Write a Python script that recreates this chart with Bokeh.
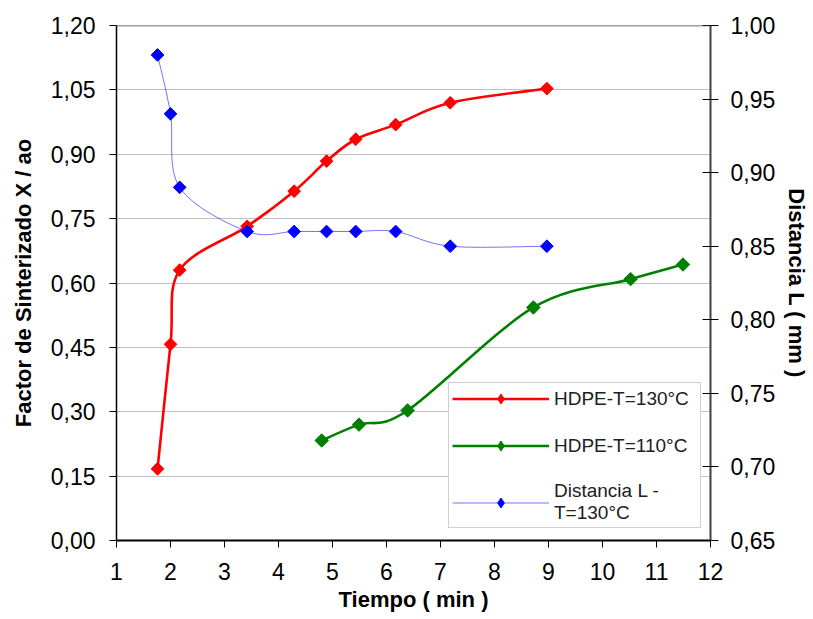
import numpy as np
from bokeh.plotting import figure
from bokeh.models import (Range1d, LinearAxis, FixedTicker, Legend, LegendItem,
                          Span, CustomJSTickFormatter)
from bokeh.embed import file_html
from bokeh.resources import INLINE

# ---- data ----
t_130 = [1.76, 2.0, 2.17, 3.42, 4.29, 4.89, 5.43, 6.17, 7.18, 8.97]
x_130 = [0.167, 0.457, 0.630, 0.732, 0.814, 0.884, 0.935, 0.969, 1.020, 1.053]

t_110 = [4.80, 5.49, 6.39, 8.72, 10.52, 11.49]
x_110 = [0.233, 0.270, 0.303, 0.543, 0.609, 0.643]

t_L = [1.76, 2.0, 2.17, 3.42, 4.29, 4.89, 5.43, 6.17, 7.18, 8.97]
L_130 = [0.98, 0.94, 0.89, 0.86, 0.86, 0.86, 0.86, 0.86, 0.85, 0.85]

x_ticks = [1, 2, 3, 4, 5, 6, 7, 8, 9, 10, 11, 12]
x_tick_labels = ["1", "2", "3", "4", "5", "6", "7", "8", "9", "10", "11", "12"]
left_ticks = [0.0, 0.15, 0.30, 0.45, 0.60, 0.75, 0.90, 1.05, 1.20]
left_tick_labels = ["0,00", "0,15", "0,30", "0,45", "0,60", "0,75", "0,90", "1,05", "1,20"]
right_ticks = [0.65, 0.70, 0.75, 0.80, 0.85, 0.90, 0.95, 1.00]
right_tick_labels = ["0,65", "0,70", "0,75", "0,80", "0,85", "0,90", "0,95", "1,00"]

labels = ["HDPE-T=130°C", "HDPE-T=110°C", "Distancia L -\nT=130°C"]

FONT = "Liberation Sans"


def smooth(xs, ys):
    """Bezier control points for an Excel-like smoothed line through the points."""
    n = len(xs)
    d = dict(x0=[], y0=[], x1=[], y1=[], cx0=[], cy0=[], cx1=[], cy1=[])
    for i in range(n - 1):
        xp, yp = (xs[i - 1], ys[i - 1]) if i > 0 else (xs[i], ys[i])
        xn, yn = (xs[i + 2], ys[i + 2]) if i + 2 < n else (xs[i + 1], ys[i + 1])
        d["x0"].append(xs[i]); d["y0"].append(ys[i])
        d["x1"].append(xs[i + 1]); d["y1"].append(ys[i + 1])
        d["cx0"].append(xs[i] + (xs[i + 1] - xp) / 6.0)
        d["cy0"].append(ys[i] + (ys[i + 1] - yp) / 6.0)
        d["cx1"].append(xs[i + 1] - (xn - xs[i]) / 6.0)
        d["cy1"].append(ys[i + 1] - (yn - ys[i]) / 6.0)
    return d


def fmt(tvals, tlabs):
    return CustomJSTickFormatter(args=dict(tvals=tvals, tlabs=tlabs), code="""
        const i = tvals.findIndex(t => Math.abs(t - tick) < 1e-9);
        return i >= 0 ? tlabs[i] : '';
    """)


p = figure(width=812, height=618, output_backend="svg", toolbar_location=None,
           x_range=Range1d(1, 12), y_range=Range1d(0, 1.2),
           min_border_left=116, min_border_right=100, min_border_top=25,
           min_border_bottom=78, background_fill_color="white",
           border_fill_color="white")
p.outline_line_color = None
p.extra_y_ranges = {"right": Range1d(0.65, 1.0)}

# grid
p.xgrid.visible = False
p.ygrid.ticker = FixedTicker(ticks=left_ticks)
p.ygrid.grid_line_color = "#c0c0c0"
p.ygrid.grid_line_width = 1

# axes
def style_axis(ax):
    ax.major_label_text_font = FONT
    ax.major_label_text_font_size = "23px"
    ax.major_label_text_color = "black"
    ax.axis_label_text_font = FONT
    ax.axis_label_text_font_size = "22px"
    ax.axis_label_text_font_style = "bold"
    ax.axis_label_text_color = "black"
    ax.minor_tick_line_color = None
    ax.major_tick_line_color = "black"

xa = p.xaxis[0]
xa.ticker = FixedTicker(ticks=x_ticks)
xa.formatter = fmt(x_ticks, x_tick_labels)
xa.axis_label = "Tiempo ( min )"
style_axis(xa)
xa.axis_line_color = "black"
xa.axis_line_width = 2
xa.major_tick_in = 0
xa.major_tick_out = 7
xa.major_label_standoff = 15
xa.axis_label_standoff = 4

ya = p.yaxis[0]
ya.ticker = FixedTicker(ticks=left_ticks)
ya.formatter = fmt(left_ticks, left_tick_labels)
ya.axis_label = "Factor de Sinterizado X / ao"
style_axis(ya)
ya.axis_line_color = "black"
ya.axis_line_width = 1.5
ya.major_tick_in = 0
ya.major_tick_out = 7
ya.major_label_standoff = 14
ya.axis_label_standoff = 12

ra = LinearAxis(y_range_name="right", ticker=FixedTicker(ticks=right_ticks),
                formatter=fmt(right_ticks, right_tick_labels),
                axis_label="Distancia L ( mm )")
style_axis(ra)
ra.axis_line_color = "#404040"
ra.axis_line_width = 2
ra.major_tick_in = 8
ra.major_tick_out = 8
ra.major_label_standoff = 12
ra.axis_label_standoff = 6
p.add_layout(ra, "right")

p.add_layout(Span(location=1.2, dimension="width", line_color="#404040", line_width=1.5))

# series: smoothed lines, hidden legend diamonds, rotated-square markers
b1 = p.bezier(**smooth(t_130, x_130), line_color="red", line_width=2.6)
d1 = p.scatter(t_130, x_130, marker="diamond", size=11, fill_color="red", line_color="red")
s1 = p.scatter(t_130, x_130, marker="square", size=9, angle=np.pi / 4,
               fill_color="red", line_color="red")

b2 = p.bezier(**smooth(t_110, x_110), line_color="green", line_width=2.6)
d2 = p.scatter(t_110, x_110, marker="diamond", size=11, fill_color="green", line_color="green")
s2 = p.scatter(t_110, x_110, marker="square", size=9.5, angle=np.pi / 4,
               fill_color="green", line_color="green")

b3 = p.bezier(**smooth(t_L, L_130), line_color="blue", line_width=1, line_alpha=0.55,
              y_range_name="right")
d3 = p.scatter(t_L, L_130, marker="diamond", size=11, fill_color="blue", line_color="blue",
               y_range_name="right")
s3 = p.scatter(t_L, L_130, marker="square", size=9, angle=np.pi / 4,
               fill_color="blue", line_color="blue", y_range_name="right")

legend = Legend(items=[
    LegendItem(label=labels[0], renderers=[b1, d1]),
    LegendItem(label=labels[1], renderers=[b2, d2]),
    LegendItem(label=labels[2], renderers=[b3, d3]),
], location=(332, 12))
legend.margin = 0
legend.padding = 3
legend.spacing = 22
legend.glyph_width = 97
legend.glyph_height = 25
legend.label_height = 22
legend.label_width = 143
legend.label_standoff = 5
legend.label_text_font = FONT
legend.label_text_font_size = "19px"
legend.label_text_color = "#202020"
legend.border_line_color = "#a0a0a0"
legend.border_line_width = 1
legend.background_fill_color = "white"
legend.background_fill_alpha = 1
p.add_layout(legend)

open("out.html", "w").write(file_html(p, INLINE))
